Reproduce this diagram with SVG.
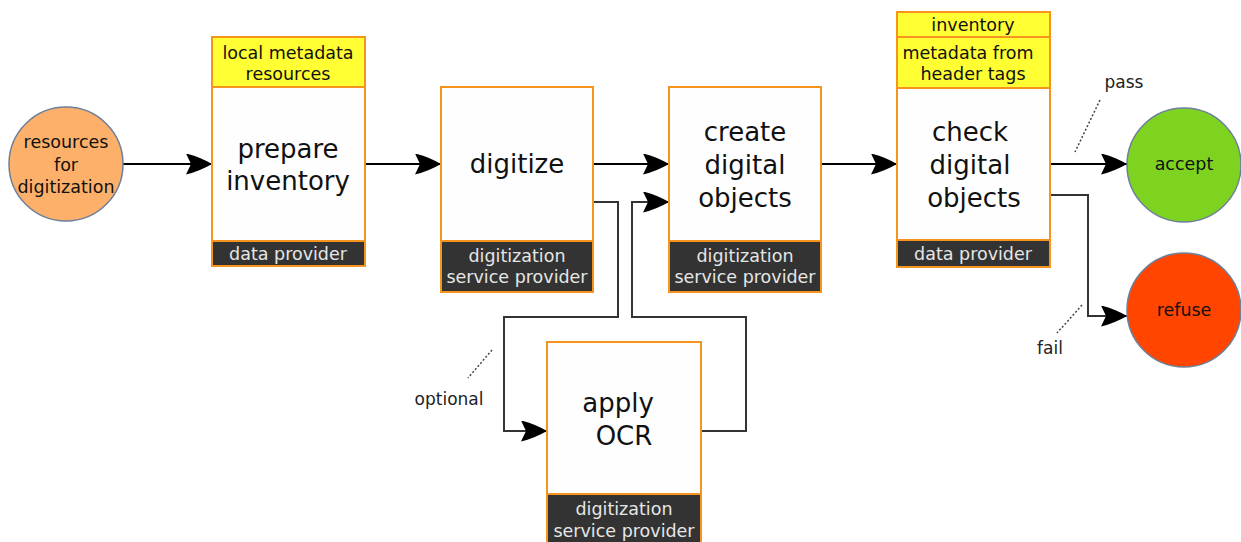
<svg xmlns="http://www.w3.org/2000/svg" width="1241" height="542" viewBox="0 0 1241 542">
  <defs>
    <marker id="arrow" markerUnits="userSpaceOnUse" viewBox="0 0 26 21" refX="26" refY="10.5" markerWidth="26" markerHeight="21" orient="auto">
      <path d="M0,0 Q13,3 26,10.5 Q13,18 0,21 L5,10.5 z" fill="#000"/>
    </marker>
  </defs>
  <style>
    text { font-family: "DejaVu Sans", Verdana, sans-serif; text-anchor: middle; }
    .body { fill: #fefefe; stroke: #f7941d; stroke-width: 2; }
    .tag { fill: #ffff33; stroke: #f7941d; stroke-width: 2; }
    .role { fill: #333333; stroke: #f7941d; stroke-width: 2; }
    .big { font-size: 26px; fill: #111; }
    .small { font-size: 17.5px; fill: #111; }
    .roletxt { font-size: 17.5px; fill: #e6e6e6; }
    .circ { font-size: 17.5px; fill: #111; }
    .lbl { font-size: 17px; fill: #222; }
    .edge { fill: none; stroke: #000; stroke-width: 2; }
    .route { fill: none; stroke: #333; stroke-width: 2; }
    .dots { fill: none; stroke: #444; stroke-width: 1.5; stroke-dasharray: 2 2; }
  </style>

  <!-- connectors -->
  <g id="connectors">
    <path class="edge" d="M123,164 H212" marker-end="url(#arrow)"/>
    <path class="edge" d="M365,164 H441" marker-end="url(#arrow)"/>
    <path class="edge" d="M593,164 H669" marker-end="url(#arrow)"/>
    <path class="route" d="M593,202 H618 V317 H504 V431 H547" marker-end="url(#arrow)"/>
    <path class="route" d="M701,431 H746 V317 H632 V202 H669" marker-end="url(#arrow)"/>
    <path class="edge" d="M821,164 H897" marker-end="url(#arrow)"/>
    <path class="edge" d="M1050,164 H1127" marker-end="url(#arrow)"/>
    <path class="route" d="M1050,195 H1088 V316 H1127" marker-end="url(#arrow)"/>
    <path class="dots" d="M492,350 L468,378"/>
    <path class="dots" d="M1100,100 L1075,152"/>
    <path class="dots" d="M1082,305 L1057,333"/>
    <text class="lbl" x="449" y="405">optional</text>
    <text class="lbl" x="1124" y="88">pass</text>
    <text class="lbl" x="1050" y="354">fail</text>
  </g>

  <!-- start -->
  <g id="resources">
    <circle cx="66" cy="164" r="57" fill="#fdb06a" stroke="#6d7f99" stroke-width="1.5"/>
    <text class="circ" x="66" y="148">resources</text>
    <text class="circ" x="66" y="171">for</text>
    <text class="circ" x="66" y="193">digitization</text>
  </g>

  <g id="prepare">
    <rect class="tag" x="212" y="37" width="153" height="50"/>
    <text class="small" x="288" y="59">local metadata</text>
    <text class="small" x="288" y="80">resources</text>
    <rect class="body" x="212" y="87" width="153" height="154"/>
    <text class="big" x="288" y="158">prepare</text>
    <text class="big" x="288" y="190">inventory</text>
    <rect class="role" x="212" y="241" width="153" height="25"/>
    <text class="roletxt" x="288" y="260">data provider</text>
  </g>

  <g id="digitize">
    <rect class="body" x="441" y="87" width="152" height="154"/>
    <text class="big" x="517" y="173">digitize</text>
    <rect class="role" x="441" y="241" width="152" height="51"/>
    <text class="roletxt" x="517" y="262">digitization</text>
    <text class="roletxt" x="517" y="283">service provider</text>
  </g>

  <g id="create">
    <rect class="body" x="669" y="87" width="152" height="154"/>
    <text class="big" x="745" y="141">create</text>
    <text class="big" x="745" y="174">digital</text>
    <text class="big" x="745" y="207">objects</text>
    <rect class="role" x="669" y="241" width="152" height="51"/>
    <text class="roletxt" x="745" y="262">digitization</text>
    <text class="roletxt" x="745" y="283">service provider</text>
  </g>

  <g id="check">
    <rect class="tag" x="897" y="12" width="153" height="25"/>
    <text class="small" x="973" y="31">inventory</text>
    <rect class="tag" x="897" y="37" width="153" height="51"/>
    <text class="small" x="968" y="59">metadata from</text>
    <text class="small" x="973" y="80">header tags</text>
    <rect class="body" x="897" y="88" width="153" height="152"/>
    <text class="big" x="970" y="141">check</text>
    <text class="big" x="970" y="174">digital</text>
    <text class="big" x="974" y="207">objects</text>
    <rect class="role" x="897" y="240" width="153" height="27"/>
    <text class="roletxt" x="973" y="260">data provider</text>
  </g>

  <g id="ocr">
    <rect class="body" x="547" y="342" width="154" height="152"/>
    <text class="big" x="618" y="412">apply</text>
    <text class="big" x="624" y="445">OCR</text>
    <rect class="role" x="547" y="494" width="154" height="52"/>
    <text class="roletxt" x="624" y="515">digitization</text>
    <text class="roletxt" x="624" y="537">service provider</text>
  </g>

  <g id="accept">
    <circle cx="1184" cy="165" r="57" fill="#7ed321" stroke="#6d7f99" stroke-width="1.5"/>
    <text class="circ" x="1184" y="170">accept</text>
  </g>

  <g id="refuse">
    <circle cx="1184" cy="310" r="57" fill="#ff4500" stroke="#6d7f99" stroke-width="1.5"/>
    <text class="circ" x="1184" y="316">refuse</text>
  </g>
</svg>
